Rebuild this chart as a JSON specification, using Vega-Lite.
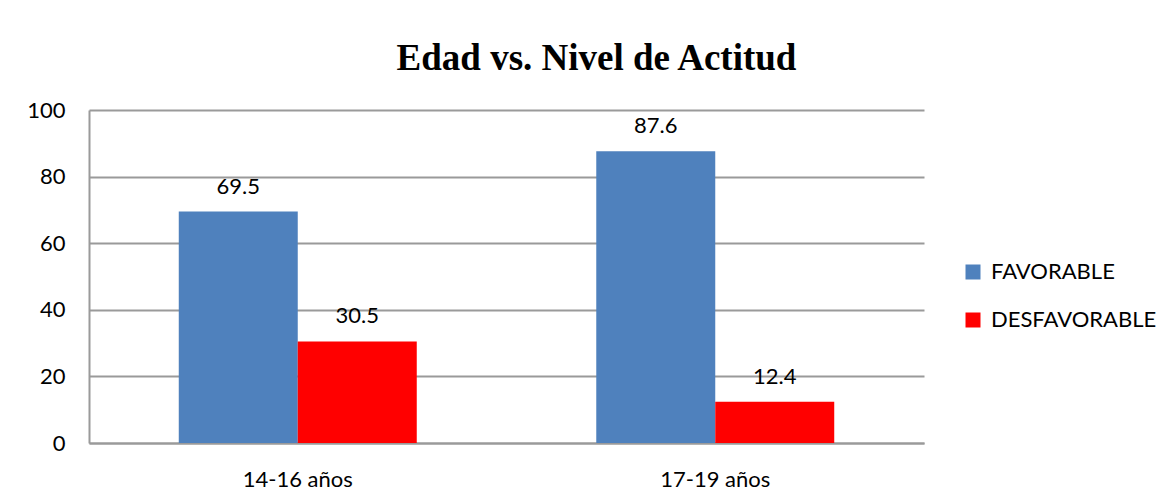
{
  "$schema": "https://vega.github.io/schema/vega-lite/v6.json",
  "width": 835,
  "height": 333,
  "autosize": {"type": "none"},
  "padding": {"left": 89, "top": 110, "right": 248, "bottom": 61},
  "background": "white",
  "title": {
    "text": "Edad vs. Nivel de Actitud",
    "font": "Liberation Serif",
    "fontSize": 37,
    "fontWeight": "bold",
    "color": "black",
    "anchor": "middle",
    "frame": "group",
    "dx": 90,
    "baseline": "alphabetic",
    "offset": -8
  },
  "data": {
    "values": [
      {"edad": "14-16 años", "nivel": "FAVORABLE", "valor": 69.5},
      {"edad": "14-16 años", "nivel": "DESFAVORABLE", "valor": 30.5},
      {"edad": "17-19 años", "nivel": "FAVORABLE", "valor": 87.6},
      {"edad": "17-19 años", "nivel": "DESFAVORABLE", "valor": 12.4}
    ]
  },
  "encoding": {
    "x": {
      "field": "edad",
      "type": "nominal",
      "scale": {"paddingInner": 0.43, "paddingOuter": 0.215},
      "axis": {
        "title": null,
        "labelAngle": 0,
        "labelFont": "Lato",
        "labelFontSize": 22,
        "labelColor": "black",
        "labelPadding": 26,
        "ticks": false,
        "domainColor": "#9a9a9a",
        "domainWidth": 2
      }
    },
    "xOffset": {
      "field": "nivel",
      "type": "nominal",
      "sort": ["FAVORABLE", "DESFAVORABLE"],
      "scale": {"paddingInner": 0, "paddingOuter": 0}
    },
    "y": {
      "field": "valor",
      "type": "quantitative",
      "scale": {"domain": [0, 100], "nice": false},
      "axis": {
        "title": null,
        "values": [0, 20, 40, 60, 80, 100],
        "labelFont": "Lato",
        "labelFontSize": 22,
        "labelColor": "black",
        "labelPadding": 24,
        "ticks": false,
        "domainColor": "#9a9a9a",
        "domainWidth": 2,
        "gridColor": "#9a9a9a",
        "gridWidth": 2
      }
    }
  },
  "layer": [
    {
      "mark": {"type": "bar"},
      "encoding": {
        "color": {
          "field": "nivel",
          "type": "nominal",
          "sort": ["FAVORABLE", "DESFAVORABLE"],
          "scale": {"domain": ["FAVORABLE", "DESFAVORABLE"], "range": ["#4F81BD", "#FF0000"]},
          "legend": {
            "title": null,
            "orient": "none",
            "legendX": 873,
            "legendY": 151,
            "symbolType": "square",
            "symbolSize": 225,
            "symbolStrokeWidth": 0,
            "symbolOpacity": 1,
            "labelFont": "Lato",
            "labelFontSize": 22,
            "labelColor": "black",
            "labelOffset": 7,
            "labelLimit": 300,
            "rowPadding": 26,
            "padding": 0
          }
        }
      }
    },
    {
      "mark": {"type": "text", "font": "Lato", "fontSize": 22, "color": "black", "baseline": "alphabetic", "dy": -18},
      "encoding": {
        "text": {"field": "valor", "type": "quantitative", "format": ".1f"}
      }
    }
  ],
  "config": {
    "view": {"stroke": null}
  }
}
